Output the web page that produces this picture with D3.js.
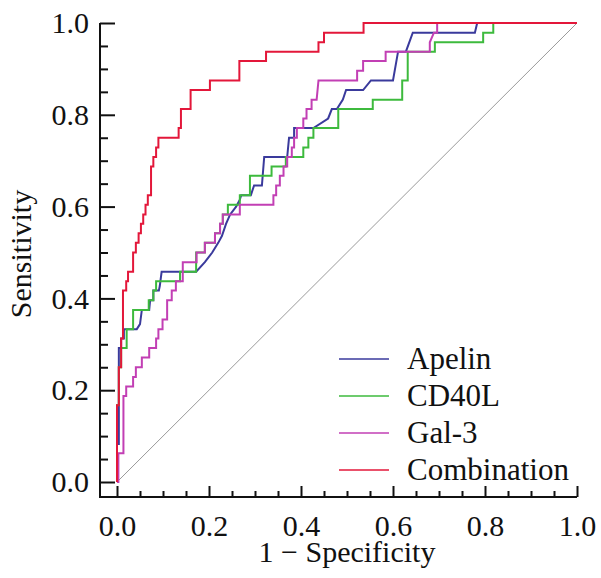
<!DOCTYPE html>
<meta charset="utf-8">
<title>ROC curves</title>
<style>

body {
  margin: 0;
  background: #fff;
}

svg text {
  font-family: "Liberation Serif", "Times New Roman", serif;
}

.axis text {
  font-size: 30px;
  fill: #111;
}

.axis line {
  stroke: #111;
  stroke-width: 2px;
}

.axis .domain {
  display: none;
}

.frame {
  fill: none;
  stroke: #111;
  stroke-width: 2px;
}

.curve {
  fill: none;
  stroke-width: 2px;
  stroke-linejoin: miter;
}

.title {
  font-size: 30px;
  fill: #111;
}

.legend text {
  font-size: 31px;
  fill: #111;
}

</style>
<body>
<script src="https://d3js.org/d3.v7.min.js"></script>
<script>

// [1 - specificity, sensitivity] pairs
var apelin = [
  [0, 0], [0, .083], [.004, .083], [.004, .292], [.009, .292], [.009, .3125],
  [.015, .3125], [.015, .333], [.043, .333], [.05, .344], [.054, .375], [.07, .375],
  [.072, .396], [.079, .396], [.079, .417], [.091, .417], [.093, .427], [.097, .458],
  [.172, .458], [.191, .479], [.207, .5], [.22, .521], [.228, .536], [.237, .5625],
  [.246, .583], [.259, .6], [.267, .615], [.27, .625], [.291, .625], [.298, .646],
  [.315, .646], [.32, .708], [.37, .708], [.374, .75], [.385, .75], [.385, .771],
  [.427, .771], [.459, .792], [.467, .8125], [.478, .8125], [.491, .833], [.498, .854],
  [.535, .854], [.552, .875], [.6, .875], [.611, .9375], [.628, .9375], [.643, .979],
  [.778, .979], [.783, 1], [1, 1]
];

var cd40l = [
  [0, 0], [0, .167], [.004, .167], [.004, .25], [.009, .25], [.009, .292],
  [.021, .292], [.021, .333], [.035, .333], [.035, .375], [.069, .375], [.069, .396],
  [.079, .396], [.079, .417], [.085, .417], [.085, .4375], [.137, .4375], [.137, .458],
  [.172, .458], [.172, .5], [.191, .5], [.191, .521], [.213, .521], [.213, .542],
  [.224, .542], [.224, .5625], [.23, .5625], [.23, .583], [.241, .583], [.241, .604],
  [.267, .604], [.267, .625], [.289, .625], [.289, .667], [.336, .667], [.336, .6875],
  [.367, .6875], [.367, .708], [.405, .708], [.405, .729], [.416, .729], [.416, .75],
  [.427, .75], [.427, .771], [.481, .771], [.481, .8125], [.556, .8125], [.556, .833],
  [.62, .833], [.62, .875], [.632, .875], [.632, .9375], [.691, .9375], [.691, .958],
  [.796, .958], [.796, .979], [.818, .979], [.818, 1], [1, 1]
];

var gal3 = [
  [0, 0], [.003, 0], [.003, .0625], [.014, .0625], [.014, .1875], [.02, .1875],
  [.02, .208], [.035, .208], [.035, .229], [.041, .229], [.041, .25], [.054, .25],
  [.054, .271], [.07, .271], [.07, .292], [.085, .292], [.085, .3125], [.09, .3125],
  [.09, .333], [.099, .333], [.099, .354], [.109, .354], [.109, .396], [.119, .396],
  [.119, .417], [.128, .417], [.128, .4375], [.143, .4375], [.143, .479], [.173, .479],
  [.173, .5], [.191, .5], [.191, .521], [.213, .521], [.213, .542], [.224, .542],
  [.224, .5625], [.23, .5625], [.23, .583], [.267, .583], [.267, .604], [.34, .604],
  [.34, .625], [.346, .625], [.346, .646], [.354, .646], [.354, .667], [.362, .667],
  [.362, .6875], [.37, .6875], [.37, .708], [.38, .708], [.38, .729], [.385, .729],
  [.385, .75], [.391, .75], [.391, .771], [.405, .771], [.405, .792], [.412, .792],
  [.412, .8125], [.423, .8125], [.423, .833], [.434, .833], [.438, .875], [.522, .875],
  [.522, .896], [.535, .896], [.535, .917], [.584, .917], [.584, .9375], [.68, .9375],
  [.68, .958], [.689, .979], [.696, .979], [.696, 1], [1, 1]
];

var combination = [
  [0, 0], [0, .167], [.004, .167], [.004, .25], [.009, .25], [.009, .3125],
  [.013, .3125], [.013, .417], [.02, .417], [.02, .4375], [.024, .4375], [.024, .458],
  [.035, .458], [.035, .5], [.041, .5], [.041, .521], [.047, .521], [.047, .542],
  [.052, .542], [.052, .5625], [.057, .5625], [.057, .583], [.062, .583], [.062, .604],
  [.067, .604], [.067, .625], [.074, .625], [.074, .6875], [.079, .6875], [.079, .708],
  [.085, .708], [.085, .729], [.09, .729], [.09, .75], [.134, .75], [.134, .771],
  [.139, .771], [.139, .8125], [.16, .8125], [.16, .854], [.202, .854], [.202, .875],
  [.266, .875], [.266, .917], [.324, .917], [.324, .9375], [.438, .9375], [.438, .958],
  [.45, .958], [.45, .979], [.536, .979], [.536, 1], [1, 1]
];

var names = ["Apelin", "CD40L", "Gal-3", "Combination"];
var colors = ["#3a3a9c", "#3dba3d", "#c23fb4", "#e3173a"];
var curves = [apelin, cd40l, gal3, combination];

var majorTicks = [0, 0.2, 0.4, 0.6, 0.8, 1.0];

var width = 601,
    height = 578;

var x = d3.scaleLinear().domain([0, 1]).range([117, 577]);
var y = d3.scaleLinear().domain([0, 1]).range([482, 23]);

var axisLeft = 100,
    axisBottom = 497;

var svg = d3.select("body").append("svg")
    .attr("width", width)
    .attr("height", height);

var minorTicks = d3.range(0, 21).map(function(i) { return i / 20; })
    .filter(function(v) { return Math.round(v * 20) % 4 !== 0; });

function axisGroup(translate, axis) {
  return svg.append("g")
      .attr("class", "axis")
      .attr("transform", translate)
      .call(axis)
      .attr("font-family", null)
      .attr("font-size", null);
}

// y axis: ticks point into the plot, labels on the left
axisGroup("translate(" + axisLeft + ",0)",
    d3.axisLeft(y).tickValues(majorTicks).tickSizeInner(-15).tickSizeOuter(0)
        .tickPadding(11).tickFormat(d3.format(".1f")));

axisGroup("translate(" + axisLeft + ",0)",
    d3.axisLeft(y).tickValues(minorTicks).tickSizeInner(-8).tickSizeOuter(0)
        .tickFormat(""));

// x axis
axisGroup("translate(0," + axisBottom + ")",
    d3.axisBottom(x).tickValues(majorTicks).tickSizeInner(-11).tickSizeOuter(0)
        .tickPadding(18).tickFormat(d3.format(".1f")));

axisGroup("translate(0," + axisBottom + ")",
    d3.axisBottom(x).tickValues(minorTicks).tickSizeInner(-6).tickSizeOuter(0)
        .tickFormat(""));

svg.append("path")
    .attr("class", "frame")
    .attr("d", "M" + axisLeft + "," + y(1) + "V" + axisBottom + "H" + x(1));

// reference diagonal
svg.append("line")
    .attr("x1", x(0)).attr("y1", y(0))
    .attr("x2", x(1)).attr("y2", y(1))
    .attr("stroke", "#9a9a9a")
    .attr("stroke-width", 1);

var line = d3.line()
    .x(function(d) { return x(d[0]); })
    .y(function(d) { return y(d[1]); });

svg.selectAll(".curve")
    .data(curves)
  .enter().append("path")
    .attr("class", "curve")
    .attr("stroke", function(d, i) { return colors[i]; })
    .attr("d", line);

svg.append("text")
    .attr("class", "title")
    .attr("text-anchor", "middle")
    .attr("x", (x(0) + x(1)) / 2)
    .attr("y", 562)
    .text("1 \u2212 Specificity");

svg.append("text")
    .attr("class", "title")
    .attr("text-anchor", "middle")
    .attr("transform", "translate(31," + 254 + ")rotate(-90)")
    .text("Sensitivity");

var legend = svg.append("g")
    .attr("class", "legend")
  .selectAll("g")
    .data(names)
  .enter().append("g")
    .attr("transform", function(d, i) { return "translate(339," + (359 + i * 37) + ")"; });

legend.append("line")
    .attr("x1", 0)
    .attr("x2", 50)
    .attr("stroke", function(d, i) { return colors[i]; })
    .attr("stroke-width", 1.5);

legend.append("text")
    .attr("x", 68)
    .attr("y", 10)
    .text(function(d) { return d; });

</script>
